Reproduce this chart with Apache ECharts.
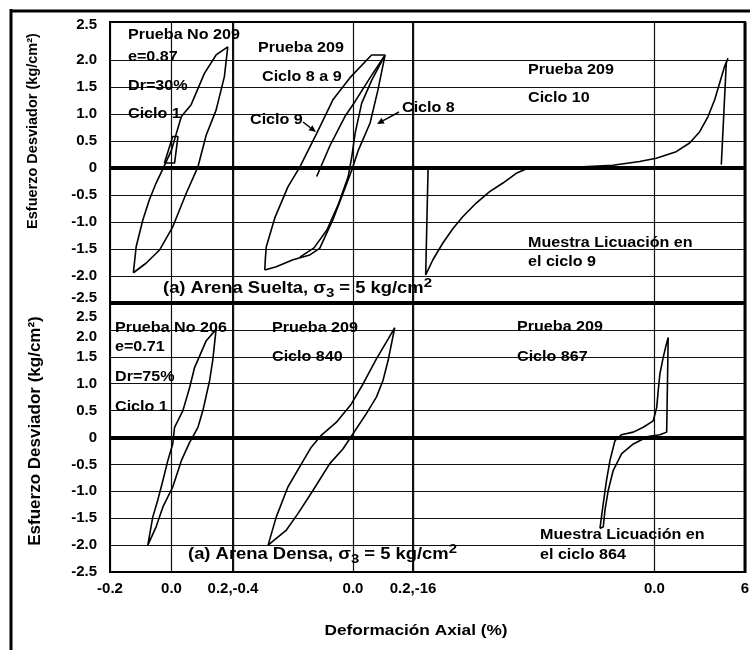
<!DOCTYPE html>
<html>
<head>
<meta charset="utf-8">
<script src="https://cdn.jsdelivr.net/npm/echarts@6/dist/echarts.min.js"></script>
<style>
  html, body { margin: 0; padding: 0; background: #fff; }
  #chart { width: 750px; height: 650px; }
</style>
</head>
<body>
<div id="chart"></div>
<script>
// Esfuerzo desviador (kg/cm2) vs deformación axial (%), pares [deformación, esfuerzo]

// ---- Arena suelta, Prueba 209 ----
const suelta209Inicio = [[-0.023, 0.09], [0.010, 0.09], [0.021, 0.58], [0.004, 0.58], [-0.023, 0.09]];
const suelta209Ciclo1 = [
  [-0.124, -1.94], [-0.115, -1.46], [-0.093, -0.96], [-0.072, -0.59], [-0.050, -0.28], [-0.025, 0.02],
  [0.000, 0.33], [0.032, 0.95], [0.064, 1.17], [0.107, 1.75], [0.145, 2.09], [0.183, 2.24],
  [0.172, 1.69], [0.145, 1.07], [0.113, 0.61], [0.086, 0.02], [0.048, -0.47], [0.004, -1.09],
  [-0.039, -1.52], [-0.082, -1.76], [-0.124, -1.94]
];
const suelta209Ciclo9 = [
  [-0.294, -1.89], [-0.292, -1.67], [-0.289, -1.46], [-0.261, -0.93], [-0.217, -0.35], [-0.177, 0.02],
  [-0.121, 0.64], [-0.067, 1.26], [-0.010, 1.67], [0.062, 2.09], [0.107, 2.09]
];
const suelta209Ciclo8Descarga = [
  [0.107, 2.09], [0.083, 1.44], [0.057, 0.83], [0.018, 0.33], [-0.004, -0.04], [-0.033, -0.47],
  [-0.067, -0.96], [-0.111, -1.49], [-0.144, -1.61], [-0.200, -1.70], [-0.256, -1.83], [-0.294, -1.89]
];
const suelta209Ciclo8Carga = [
  [0.107, 2.09], [0.063, 1.63], [0.029, 1.20], [0.007, 0.64], [-0.004, 0.21], [-0.016, -0.16],
  [-0.050, -0.69], [-0.087, -1.15], [-0.130, -1.48], [-0.177, -1.65]
];
const suelta209Ciclo9Parcial = [
  [0.107, 2.09], [0.057, 1.67], [0.007, 1.23], [-0.027, 0.95], [-0.077, 0.41], [-0.121, -0.16]
];
const suelta209Ciclo10 = [
  [-15.0, 0.0], [-15.16, -1.98], [-14.68, -1.70], [-14.02, -1.39], [-13.35, -1.12], [-12.69, -0.90],
  [-11.81, -0.65], [-10.92, -0.44], [-10.04, -0.28], [-9.16, -0.10], [-8.50, -0.02], [-6.06, 0.0],
  [-2.76, 0.05], [-0.98, 0.12], [0.12, 0.18], [1.44, 0.30], [2.33, 0.46], [3.00, 0.67], [3.55, 0.95],
  [3.99, 1.26], [4.32, 1.57], [4.65, 1.88], [4.87, 2.03], [4.76, 1.94], [4.43, 0.06]
];

// ---- Arena densa, Pruebas 206 / 209 ----
const densa206Ciclo1 = [
  [0.145, 2.01], [0.113, 1.80], [0.075, 1.30], [0.059, 0.93], [0.037, 0.50], [0.010, 0.19], [0.004, -0.12],
  [-0.012, -0.43], [-0.028, -0.80], [-0.045, -1.17], [-0.061, -1.48], [-0.077, -2.00],
  [-0.050, -1.66], [-0.028, -1.29], [0.004, -0.92], [0.032, -0.43], [0.059, -0.09], [0.086, 0.19],
  [0.102, 0.50], [0.124, 1.06], [0.134, 1.43], [0.145, 2.01]
];
const densa209Ciclo840 = [
  [-0.283, -2.00], [-0.256, -1.48], [-0.217, -0.92], [-0.172, -0.49], [-0.139, -0.18], [-0.106, 0.04],
  [-0.056, 0.28], [-0.006, 0.62], [0.033, 0.99], [0.078, 1.46], [0.117, 1.83], [0.139, 2.04],
  [0.117, 1.43], [0.100, 1.06], [0.078, 0.75], [0.044, 0.44], [0.000, 0.07], [-0.033, -0.21],
  [-0.078, -0.49], [-0.133, -0.98], [-0.183, -1.41], [-0.222, -1.72], [-0.283, -2.00]
];
const densa209Ciclo864 = [
  [-3.61, -1.69], [-3.41, -1.26], [-3.18, -0.80], [-2.95, -0.43], [-2.62, -0.06], [-2.20, 0.05],
  [-1.40, 0.10], [-0.74, 0.19], [-0.08, 0.31], [0.15, 0.56], [0.25, 0.87], [0.36, 1.18], [0.58, 1.49],
  [0.76, 1.70], [0.91, 1.86], [0.81, 0.10], [0.36, 0.05], [-0.43, 0.02], [-1.40, -0.12], [-2.17, -0.30],
  [-2.73, -0.61], [-3.06, -0.98], [-3.28, -1.35], [-3.39, -1.66], [-3.61, -1.69]
];

// ---- ejes: [min, max, intervalo] de cada tramo de deformación ----
const strainRanges = [[-0.2, 0.2, 0.2], [-0.4, 0.2, 0.4], [-16, 6, 16]];
const strainJoinLabels = ['', '0.2,', '0.2,'];   // prefijo del tramo anterior en la frontera
const stressRange = [-2.5, 2.5, 0.5];

// Curvas de cada panel: índice de grid (fila*3 + columna) -> series
const panelSeries = [
  [suelta209Ciclo1, suelta209Inicio],
  [suelta209Ciclo9, suelta209Ciclo8Descarga, suelta209Ciclo8Carga, suelta209Ciclo9Parcial],
  [suelta209Ciclo10],
  [densa206Ciclo1],
  [densa209Ciclo840],
  [densa209Ciclo864]
];

const FONT = '"Liberation Sans", Arial, Helvetica, sans-serif';
const cols = [{ left: 110, width: 123 }, { left: 233, width: 180 }, { left: 413, width: 332 }];
const rows = [{ top: 22, height: 281, max: 2.7 }, { top: 303, height: 269, max: 2.5 }];

const boldLbl = (extra) => Object.assign({ fontFamily: FONT, fontSize: 15, fontWeight: 'bold', color: '#000' }, extra || {});
const near = (a, b) => Math.abs(a - b) < 1e-6;
const fmtStress = (v) => (near(v, 0) ? '0' : v.toFixed(1));

const grids = [], xAxes = [], yAxes = [], series = [];
rows.forEach((r, ri) => {
  cols.forEach((c, ci) => {
    const gi = ri * 3 + ci;
    grids.push({
      left: c.left, top: r.top, width: c.width, height: r.height,
      show: true, borderColor: '#000', borderWidth: 1.5, backgroundColor: 'transparent',
      containLabel: false, outerBoundsMode: 'none'
    });
    const [xmin, xmax, xint] = strainRanges[ci];
    xAxes.push({
      gridIndex: gi, type: 'value', min: xmin, max: xmax, interval: xint,
      axisLine: { show: false }, axisTick: { show: false },
      splitLine: { show: true, lineStyle: { color: '#111', width: 1.2 } },
      axisLabel: Object.assign(boldLbl({ margin: 9 }), {
        show: ri === 1,
        showMinLabel: true,
        showMaxLabel: ci === 2,
        formatter: (v) => {
          if (ci === 2) return near(v, 0) ? '0.0' : (near(v, xmin) ? strainJoinLabels[ci] + v : String(v));
          const t = v.toFixed(1);
          return near(v, xmin) ? strainJoinLabels[ci] + t : t;
        }
      })
    });
    // líneas de la rejilla horizontal; en el panel superior no se traza la de 2.5
    const topColors = [];
    for (let k = 0; k < 12; k++) topColors.push(k === 10 ? 'rgba(0,0,0,0)' : '#111');
    yAxes.push({
      gridIndex: gi, type: 'value', min: stressRange[0], max: r.max, interval: stressRange[2],
      axisLine: { show: false }, axisTick: { show: false },
      splitLine: { show: true, lineStyle: { color: ri === 0 ? topColors : '#111', width: 1.2 } },
      axisLabel: Object.assign(boldLbl({ margin: 13 }), {
        show: ci === 0,
        showMaxLabel: ri === 1,
        formatter: (v) => {
          if (ri === 0 && near(v, 2.5)) return '{u8|2.5}';
          if (ri === 0 && near(v, -2.5)) return '{u5|-2.5}';
          if (ri === 1 && near(v, 2.5)) return '{d14|2.5}';
          if (ri === 1 && near(v, 2.0)) return '{d7|2.0}';
          return fmtStress(v);
        },
        rich: {
          u8: boldLbl({ padding: [0, 0, 16, 0] }),
          u5: boldLbl({ padding: [0, 0, 10, 0] }),
          d14: boldLbl({ padding: [28, 0, 0, 0] }),
          d7: boldLbl({ padding: [14, 0, 0, 0] })
        }
      })
    });
    panelSeries[gi].forEach((data, si) => {
      const s = {
        type: 'line', xAxisIndex: gi, yAxisIndex: gi, data: data,
        showSymbol: false, symbol: 'none', smooth: false,
        lineStyle: { color: '#000', width: 1.6 }, z: 3, silent: true
      };
      if (si === 0) {
        s.markLine = {
          silent: true, symbol: ['none', 'none'], label: { show: false },
          lineStyle: { color: '#000', width: 4, type: 'solid' },
          data: [{ yAxis: 0 }]
        };
      }
      series.push(s);
    });
  });
});

// ---- anotaciones ----
const notes = [
  ['Prueba No 209', 128, 35], ['e=0.87', 128, 57], ['Dr=30%', 128, 86], ['Ciclo 1', 128, 114],
  ['Prueba 209', 258, 48], ['Ciclo 8 a 9', 262, 77], ['Ciclo 9', 250, 120], ['Ciclo 8', 402, 108],
  ['Prueba 209', 528, 70], ['Ciclo 10', 528, 98],
  ['Muestra Licuación en', 528, 243], ['el ciclo 9', 528, 262],
  ['Prueba No 206', 115, 328], ['e=0.71', 115, 347], ['Dr=75%', 115, 377], ['Ciclo 1', 115, 407],
  ['Prueba 209', 272, 328], ['Ciclo 840', 272, 357],
  ['Prueba 209', 517, 327], ['Ciclo 867', 517, 357],
  ['Muestra Licuación en', 540, 535], ['el ciclo 864', 540, 555]
];
const captions = [
  ['(a) Arena Suelta, σ{sub|3} = 5 kg/cm{sup|2}', 163, 289],
  ['(a) Arena Densa, σ{sub|3} = 5 kg/cm{sup|2}', 188, 555]
];

const graphic = [];
const STRETCH = 1.15;
notes.forEach(([t, x, y]) => graphic.push({
  type: 'text', x: x, y: y, scaleX: STRETCH, z: 50, silent: true,
  style: { text: t, fill: '#000', fontFamily: FONT, fontSize: 14, fontWeight: 'bold', align: 'left', verticalAlign: 'middle' }
}));
captions.forEach(([t, x, y]) => graphic.push({
  type: 'text', x: x, y: y, scaleX: STRETCH, z: 50, silent: true,
  style: {
    text: t, fill: '#000', fontFamily: FONT, fontSize: 16, fontWeight: 'bold', align: 'left', verticalAlign: 'middle',
    rich: {
      sub: { fontFamily: FONT, fontSize: 13, fontWeight: 'bold', fill: '#000', padding: [9, 0, 0, 0] },
      sup: { fontFamily: FONT, fontSize: 13, fontWeight: 'bold', fill: '#000', padding: [0, 0, 11, 0] }
    }
  }
}));

// flechas que señalan los ciclos 9 y 8
function arrow(x1, y1, x2, y2) {
  const dx = x2 - x1, dy = y2 - y1, L = Math.hypot(dx, dy);
  const ux = dx / L, uy = dy / L, bx = x2 - 7 * ux, by = y2 - 7 * uy;
  graphic.push({ type: 'line', z: 50, silent: true, shape: { x1, y1, x2: bx, y2: by }, style: { stroke: '#000', lineWidth: 1.5 } });
  graphic.push({
    type: 'polygon', z: 50, silent: true,
    shape: { points: [[x2, y2], [bx - 3.2 * uy, by + 3.2 * ux], [bx + 3.2 * uy, by - 3.2 * ux]] },
    style: { fill: '#000' }
  });
}
arrow(303, 122, 316, 132);
arrow(399, 112, 377, 124);

// marco del gráfico
function rule(x1, y1, x2, y2, w) {
  graphic.push({ type: 'line', z: 60, silent: true, shape: { x1, y1, x2, y2 }, style: { stroke: '#000', lineWidth: w } });
}
rule(11, 9, 11, 650, 3);
rule(10, 11, 750, 11, 3);
rule(109, 22, 746, 22, 2);
rule(110, 22, 110, 572, 2);
rule(110, 303, 746, 303, 4);
rule(745, 22, 745, 573, 3);
rule(109, 572, 746, 572, 2);

// títulos de los ejes
graphic.push({
  type: 'text', x: 33, y: 131, rotation: Math.PI / 2, z: 50, silent: true,
  style: { text: 'Esfuerzo Desviador (kg/cm²)', fill: '#000', fontFamily: FONT, fontSize: 14.5, fontWeight: 'bold', align: 'center', verticalAlign: 'middle' }
});
graphic.push({
  type: 'text', x: 35, y: 431, rotation: Math.PI / 2, z: 50, silent: true,
  style: { text: 'Esfuerzo Desviador (kg/cm²)', fill: '#000', fontFamily: FONT, fontSize: 17, fontWeight: 'bold', align: 'center', verticalAlign: 'middle' }
});
graphic.push({
  type: 'text', x: 416, y: 631, scaleX: STRETCH, z: 50, silent: true,
  style: { text: 'Deformación Axial (%)', fill: '#000', fontFamily: FONT, fontSize: 15, fontWeight: 'bold', align: 'center', verticalAlign: 'middle' }
});

const chart = echarts.init(document.getElementById('chart'), null, { renderer: 'canvas' });
chart.setOption({
  animation: false,
  backgroundColor: '#fff',
  grid: grids,
  xAxis: xAxes,
  yAxis: yAxes,
  series: series,
  graphic: graphic
});
</script>
</body>
</html>
